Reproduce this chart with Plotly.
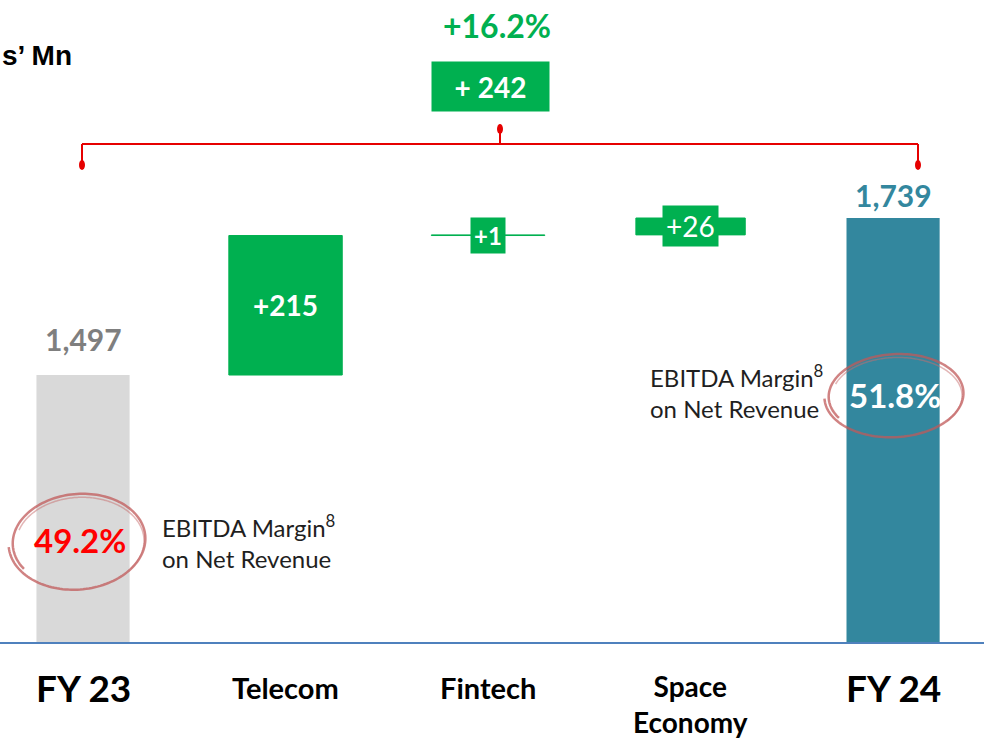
import numpy as np
import plotly.graph_objects as go

# ---------------- data ----------------
categories = ["FY 23", "Telecom", "Fintech", "Space Economy", "FY 24"]
category_labels = ["FY 23", "Telecom", "Fintech", "Space<br>Economy", "FY 24"]
total_labels = ["FY 23", "FY 24"]
total_values = [1497, 1739]
delta_labels = ["Telecom", "Fintech", "Space Economy"]
delta_values = [215, 1, 26]
ebitda_margins = [49.2, 51.8]
unit_title = "s’ Mn"

# ---------------- style ----------------
W, H = 984, 742
PB = 643  # pixel row of plot bottom (baseline)
GREY = "#D9D9D9"
TEAL = "#33879E"
GREEN = "#00B050"
RED = "#E60000"
FONT = "Lato"


def px(xp):
    return xp / W


def py(yp):
    return (PB - yp) / PB


# cumulative bases for the deltas
bases = []
run = total_values[0]
for d in delta_values:
    bases.append(run)
    run += d

fig = go.Figure()
fig.add_trace(go.Bar(
    x=total_labels, y=total_values, base=[0, 0],
    marker=dict(color=[GREY, TEAL], line=dict(width=0)),
    width=[0.46, 0.46], hoverinfo="skip", showlegend=False,
))
fig.add_trace(go.Bar(
    x=delta_labels, y=delta_values, base=bases,
    marker=dict(color=GREEN, line=dict(color=GREEN, width=1)),
    width=[0.56, 0.56, 0.54], hoverinfo="skip", showlegend=False,
))

annotations = []

# category labels under the baseline
for i, (c, lab) in enumerate(zip(categories, category_labels)):
    big = c.startswith("FY")
    two = "<br>" in lab
    yc = 687 if not two else 704
    annotations.append(dict(
        x=c, xref="x", y=py(yc), yref="paper", text=lab, showarrow=False,
        yanchor="middle", xanchor="center",
        font=dict(family=FONT, size=37 if big else (28 if two else 29),
                  color="black", weight="bold"),
    ))

# total value labels
annotations.append(dict(
    x=total_labels[0], y=total_values[0], yanchor="bottom", xanchor="center", yshift=16,
    text=f"{total_values[0]:,}", showarrow=False,
    font=dict(family=FONT, size=30, color="#7F7F7F", weight="bold")))
annotations.append(dict(
    x=total_labels[1], y=total_values[1], yanchor="bottom", xanchor="center", yshift=3,
    text=f"{total_values[1]:,}", showarrow=False,
    font=dict(family=FONT, size=30, color=TEAL, weight="bold")))

# delta labels
for lab, b, d in zip(delta_labels, bases, delta_values):
    if d >= 100:
        annotations.append(dict(
            x=lab, y=b + d / 2, text=f"+{d}", showarrow=False,
            xanchor="center", yanchor="middle",
            font=dict(family=FONT, size=28, color="white", weight="bold")))
    else:
        annotations.append(dict(
            x=lab, y=b + d / 2, text=f"+{d}", showarrow=False,
            xanchor="center", yanchor="middle",
            bgcolor=GREEN, borderpad=3,
            font=dict(family=FONT, size=24 if d < 10 else 28, color="white",
                      weight="bold" if d < 10 else "normal")))

# overall change
change = total_values[1] - total_values[0]
pct = change / total_values[0] * 100
annotations.append(dict(
    x=px(490), xref="paper", y=py(86), yref="paper", text=f"+ {change}",
    xanchor="center", yanchor="middle",
    showarrow=False, bgcolor=GREEN, width=117, height=49, borderpad=0,
    font=dict(family=FONT, size=28, color="white", weight="bold")))
annotations.append(dict(
    x=px(497), xref="paper", y=py(25), yref="paper", text=f"+{pct:.1f}%",
    xanchor="center", yanchor="middle",
    showarrow=False,
    font=dict(family=FONT, size=32, color=GREEN, weight="bold")))

# unit title
annotations.append(dict(
    x=0, xref="paper", xanchor="left", y=py(55), yref="paper", yanchor="middle",
    text=unit_title, showarrow=False,
    font=dict(family="Liberation Sans", size=28, color="black", weight="bold")))

# EBITDA margins
annotations.append(dict(
    x=px(80), xref="paper", y=py(540), yref="paper",
    xanchor="center", yanchor="middle",
    text=f"{ebitda_margins[0]:.1f}%", showarrow=False,
    font=dict(family=FONT, size=33, color="#FF0000", weight="bold")))
annotations.append(dict(
    x=px(895), xref="paper", y=py(395), yref="paper",
    xanchor="center", yanchor="middle",
    text=f"{ebitda_margins[1]:.1f}%", showarrow=False,
    font=dict(family=FONT, size=33, color="white", weight="bold")))
for xl, yc in [(160, 541), (648, 391)]:
    annotations.append(dict(
        x=px(xl), xref="paper", xanchor="left", y=py(yc), yref="paper",
        yanchor="middle",
        text="EBITDA Margin<sup>8</sup><br>on Net Revenue", align="left",
        showarrow=False,
        font=dict(family=FONT, size=24, color="#1F1F1F")))

shapes = []
# baseline
shapes.append(dict(type="line", xref="paper", yref="paper", x0=0, x1=1,
                   y0=0, y1=0, line=dict(color="#4F81BD", width=2)))
# bracket
for (x0, y0, x1, y1) in [(82, 144, 918, 144), (82, 144, 82, 163),
                         (918, 144, 918, 163), (500, 144, 500, 131)]:
    shapes.append(dict(type="line", xref="paper", yref="paper",
                       x0=px(x0), y0=py(y0), x1=px(x1), y1=py(y1),
                       line=dict(color=RED, width=2)))
for (cx, cy) in [(82, 165), (918, 165), (500, 129)]:
    shapes.append(dict(type="circle", xref="paper", yref="paper",
                       x0=px(cx - 3), x1=px(cx + 3), y0=py(cy + 5), y1=py(cy - 5),
                       fillcolor=RED, line=dict(color=RED, width=0)))


def scribble(cx, cy, rx, ry, rot, start, sweep, grow):
    t = np.radians(np.linspace(start, start + sweep, 160))
    s = 1 + grow * (t - t[0]) / (t[-1] - t[0])
    ex = rx * s * np.cos(t)
    ey = ry * s * np.sin(t)
    a = np.radians(rot)
    xs = cx + ex * np.cos(a) - ey * np.sin(a)
    ys = cy + ex * np.sin(a) + ey * np.cos(a)
    pts = [f"{px(x):.5f},{py(y):.5f}" for x, y in zip(xs, ys)]
    return "M " + " L ".join(pts)


for (cx, cy, rx, ry, rot) in [(78, 541, 65, 46, -5), (895, 395, 66, 40, -3)]:
    shapes.append(dict(type="path", xref="paper", yref="paper",
                       path=scribble(cx, cy, rx, ry, rot, 150, 390, 0.07),
                       line=dict(color="rgba(192,90,90,0.75)", width=2.5)))
    shapes.append(dict(type="path", xref="paper", yref="paper",
                       path=scribble(cx + 1, cy + 1, rx - 2, ry - 2, rot + 2, 200, 200, 0.04),
                       line=dict(color="rgba(200,110,110,0.5)", width=1.5)))

fig.update_layout(
    width=W, height=H,
    margin=dict(l=0, r=0, t=0, b=H - PB),
    paper_bgcolor="white", plot_bgcolor="white",
    barmode="overlay",
    xaxis=dict(type="category", categoryorder="array", categoryarray=categories,
               range=[-0.41, 4.449], showticklabels=False, showgrid=False,
               zeroline=False, showline=False, fixedrange=True),
    yaxis=dict(range=[1084, 2075], visible=False, showgrid=False, zeroline=False),
    annotations=annotations,
    shapes=shapes,
    showlegend=False,
)

fig.write_html("out.html",
               config={"displayModeBar": False},
               post_script="document.body.style.margin='0';document.body.style.overflow='hidden';")
